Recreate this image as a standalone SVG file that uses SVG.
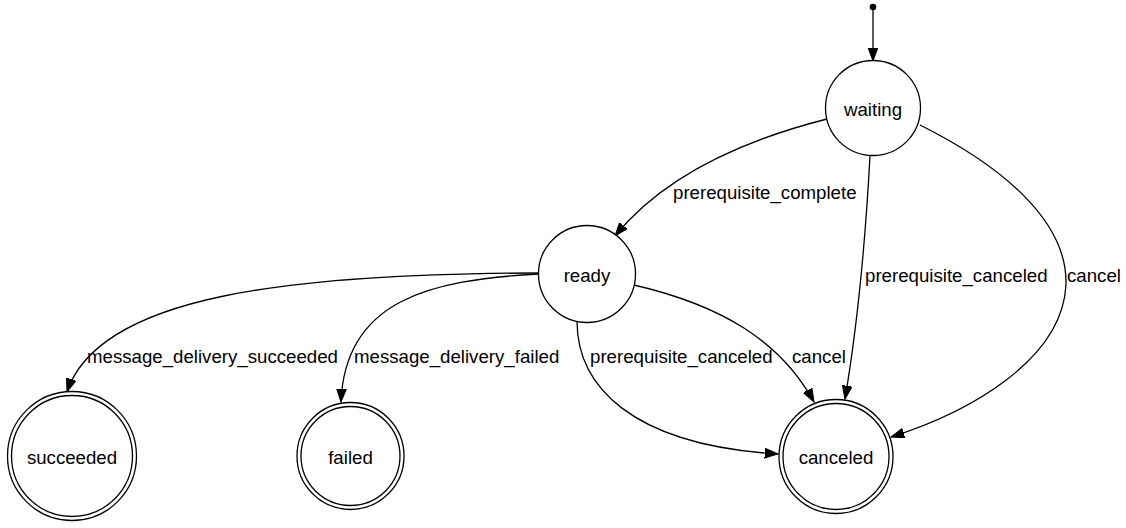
<svg xmlns="http://www.w3.org/2000/svg" width="1126" height="528" viewBox="0 0 1126 528">
  <style>
    .node { fill: #ffffff; stroke: #000000; stroke-width: 1.3; }
    .edge { fill: none; stroke: #000000; stroke-width: 1.3; marker-end: url(#arrow); }
    text { font-family: "Liberation Sans", Arial, Helvetica, sans-serif; font-size: 18.67px; fill: #000000; }
    .name { text-anchor: middle; }
  </style>
  <defs>
    <marker id="arrow" markerUnits="userSpaceOnUse" markerWidth="16" markerHeight="12" refX="13.3" refY="5.2" orient="auto">
      <path d="M0,0.3 L13.3,5.2 L0,10.1 Z" fill="#000000" stroke="#000000" stroke-width="1"/>
    </marker>
  </defs>
  <rect width="1126" height="528" fill="#ffffff"/>

  <!-- transitions -->
  <g id="connectors">
    <path class="edge" d="M873,7 L873,61"/>
    <path class="edge" d="M827,119 C760,136 670,168 615,236"/>
    <path class="edge" d="M870,156 C866,230 860,310 845,399"/>
    <path class="edge" d="M920,125 C1000,165 1068,220 1066,285 C1062,360 970,412 891,437"/>
    <path class="edge" d="M538,273 C290,274 99,295 67,392"/>
    <path class="edge" d="M538,274 C430,280 345,300 341,402"/>
    <path class="edge" d="M577,321 C577,385 630,445 778,454"/>
    <path class="edge" d="M634,285 C720,305 780,340 814,402"/>
    <text x="673" y="199">prerequisite_complete</text>
    <text x="865" y="282">prerequisite_canceled</text>
    <text x="1067" y="282">cancel</text>
    <text x="87" y="363">message_delivery_succeeded</text>
    <text x="354" y="363">message_delivery_failed</text>
    <text x="590" y="363">prerequisite_canceled</text>
    <text x="792" y="363">cancel</text>
  </g>

  <!-- start point -->
  <g id="start">
    <circle cx="873" cy="7" r="3.3" fill="#000000"/>
  </g>

  <g id="waiting">
    <circle class="node" cx="873" cy="108" r="47.5"/>
    <text class="name" x="873" y="116">waiting</text>
  </g>

  <g id="ready">
    <circle class="node" cx="587" cy="274" r="48.5"/>
    <text class="name" x="587" y="282">ready</text>
  </g>

  <g id="succeeded">
    <circle class="node" cx="72" cy="456" r="64.5"/>
    <circle class="node" cx="72" cy="456" r="60.5"/>
    <text class="name" x="72" y="464">succeeded</text>
  </g>

  <g id="failed">
    <circle class="node" cx="350.5" cy="456" r="53.5"/>
    <circle class="node" cx="350.5" cy="456" r="49.5"/>
    <text class="name" x="350.5" y="464">failed</text>
  </g>

  <g id="canceled">
    <circle class="node" cx="836" cy="456.5" r="57"/>
    <circle class="node" cx="836" cy="456.5" r="53"/>
    <text class="name" x="836" y="464">canceled</text>
  </g>
</svg>
